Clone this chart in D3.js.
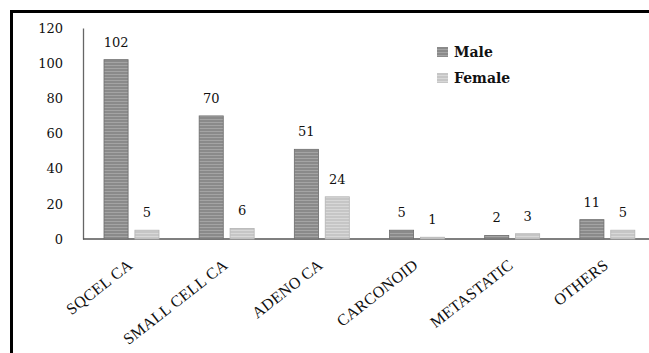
<!DOCTYPE html>
<html>
<head>
<meta charset="utf-8">
<script src="https://cdn.jsdelivr.net/npm/d3@7"></script>
<style>
  html, body { margin: 0; padding: 0; background: #fff; }
  svg { display: block; }
</style>
</head>
<body>
<svg id="chart" width="649" height="353"></svg>
<script>
// Lung tumour histology by sex
const categories = ["SQCEL CA", "SMALL CELL CA", "ADENO CA", "CARCONOID", "METASTATIC", "OTHERS"];
const seriesNames = ["Male", "Female"];
const maleValues = [102, 70, 51, 5, 2, 11];
const femaleValues = [5, 6, 24, 1, 3, 5];
const yTicks = [0, 20, 40, 60, 80, 100, 120];

const svg = d3.select("#chart");
const W = 649, H = 353;

// frame: top and left rules
svg.append("line").attr("x1", 10).attr("x2", W).attr("y1", 11.5).attr("y2", 11.5)
  .attr("stroke", "#000").attr("stroke-width", 3);
svg.append("line").attr("x1", 11.5).attr("x2", 11.5).attr("y1", 10).attr("y2", H)
  .attr("stroke", "#000").attr("stroke-width", 3);

// striped fills
const defs = svg.append("defs");
function stripe(id, base, line) {
  const p = defs.append("pattern").attr("id", id).attr("patternUnits", "userSpaceOnUse")
    .attr("width", 8).attr("height", 3);
  p.append("rect").attr("width", 8).attr("height", 3).attr("fill", base);
  p.append("rect").attr("y", 2).attr("width", 8).attr("height", 1).attr("fill", line);
}
stripe("stripeMale", "#8a8a8a", "#a4a4a4");
stripe("stripeFemale", "#c6c6c6", "#d8d8d8");
const fills = { Male: "url(#stripeMale)", Female: "url(#stripeFemale)" };
const edge = { Male: "#6c6c6c", Female: "#b4b4b4" };

const x0 = d3.scaleBand().domain(categories).range([83, 654]);
const x1 = d3.scaleBand().domain(seriesNames).range([21, 76]).paddingInner(0.22);
const y = d3.scaleLinear().domain([0, 120]).range([239, 28]);

// y axis
const yAxis = svg.append("g").attr("transform", "translate(83,0)")
  .call(d3.axisLeft(y).tickValues(yTicks).tickSize(0).tickPadding(20));
yAxis.select(".domain").attr("stroke", "#666").attr("stroke-width", 1.3);
yAxis.selectAll("text").attr("font-family", "DejaVu Serif").attr("font-size", 13).attr("fill", "#111");

// x baseline
svg.append("line").attr("x1", 83).attr("x2", W).attr("y1", y(0)).attr("y2", y(0))
  .attr("stroke", "#555").attr("stroke-width", 1.3);

const rows = categories.map((c, i) => ({ cat: c, Male: maleValues[i], Female: femaleValues[i] }));

const groups = svg.append("g").selectAll("g").data(rows).join("g")
  .attr("transform", d => `translate(${x0(d.cat)},0)`);

groups.selectAll("rect").data(d => seriesNames.map(s => ({ s, v: d[s] }))).join("rect")
  .attr("x", d => x1(d.s))
  .attr("width", x1.bandwidth())
  .attr("y", d => y(d.v))
  .attr("height", d => y(0) - y(d.v))
  .attr("fill", d => fills[d.s])
  .attr("stroke", d => edge[d.s]).attr("stroke-width", 0.8);

groups.selectAll("text.val").data(d => seriesNames.map(s => ({ s, v: d[s] }))).join("text")
  .attr("class", "val")
  .attr("x", d => x1(d.s) + x1.bandwidth() / 2)
  .attr("y", d => y(d.v) - 13)
  .attr("text-anchor", "middle")
  .attr("font-family", "DejaVu Serif").attr("font-size", 13).attr("fill", "#111")
  .text(d => d.v);

// rotated category labels
svg.append("g").selectAll("text").data(categories).join("text")
  .attr("transform", d => `translate(${x0(d) + x0.bandwidth() / 2 + 3},267) rotate(-38)`)
  .attr("text-anchor", "end")
  .attr("font-family", "Liberation Serif").attr("font-size", 16).attr("letter-spacing", 0.3)
  .attr("fill", "#111")
  .text(d => d);

// legend
const legend = svg.append("g").selectAll("g").data(seriesNames).join("g")
  .attr("transform", (d, i) => `translate(437,${47 + i * 26})`);
legend.append("rect").attr("width", 11).attr("height", 10).attr("fill", d => fills[d]);
legend.append("text").attr("x", 17).attr("y", 10)
  .attr("font-family", "DejaVu Serif").attr("font-weight", "bold").attr("font-size", 14)
  .attr("fill", "#111").text(d => d);
</script>
</body>
</html>
